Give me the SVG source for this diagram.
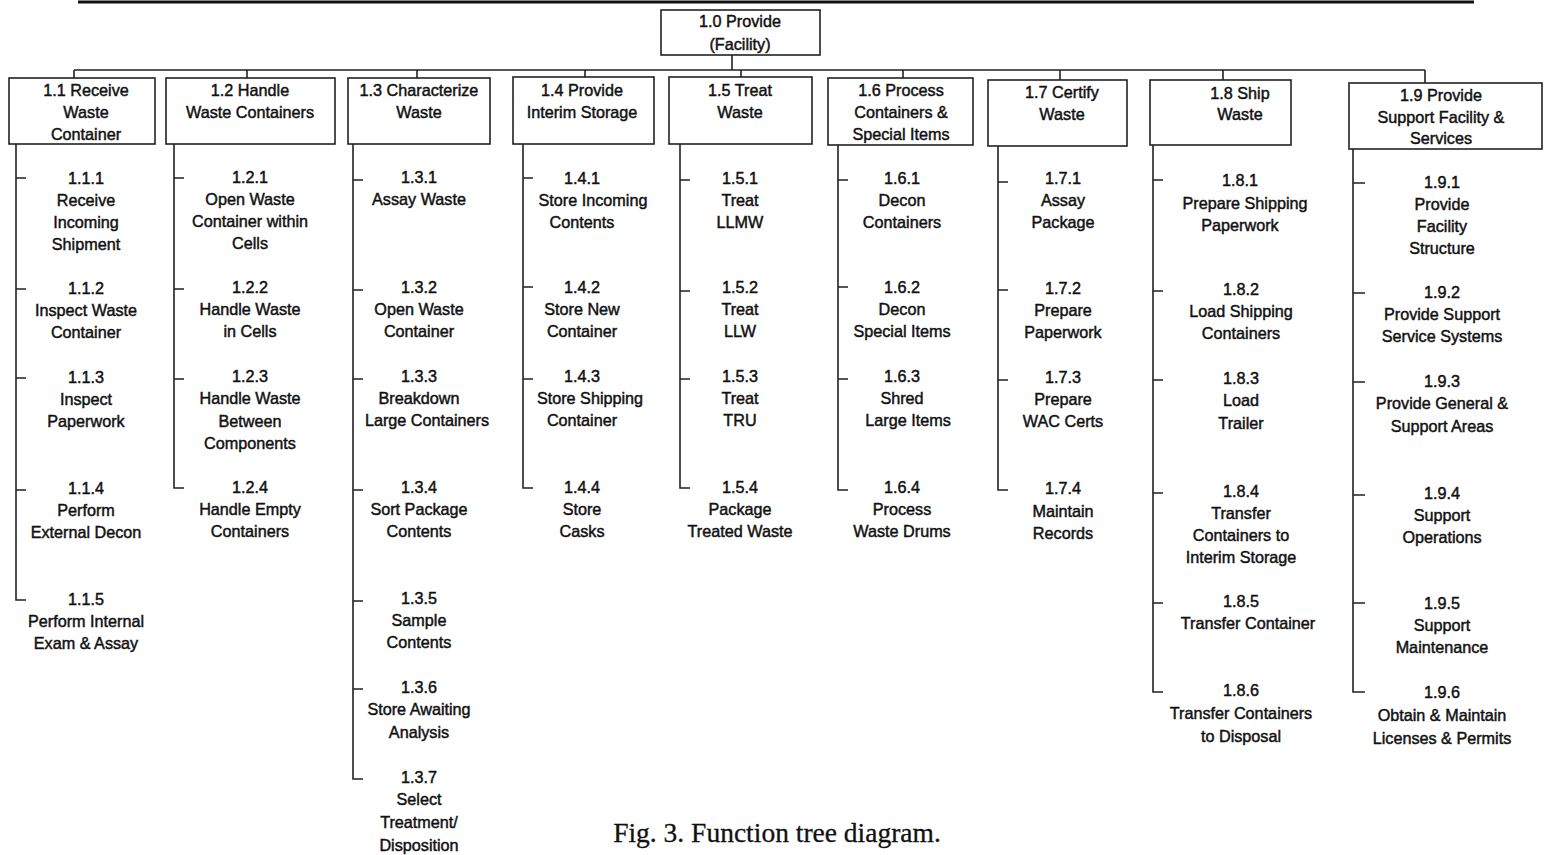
<svg xmlns="http://www.w3.org/2000/svg" width="1546" height="855" viewBox="0 0 1546 855">
<style>
.t{font-family:"Liberation Sans",Arial,sans-serif;font-size:16.2px;fill:#111;stroke:#111;stroke-width:0.45;text-anchor:middle;dominant-baseline:central}
.box{fill:#fff;stroke:#222;stroke-width:1.6}
.ln{stroke:#222;stroke-width:1.6;fill:none}
.cap{font-family:"Liberation Serif","Times New Roman",serif;font-size:27.5px;fill:#111;stroke:#111;stroke-width:0.3;text-anchor:middle}
</style>
<rect width="1546" height="855" fill="#fff"/>
<line x1="78" y1="2" x2="1474" y2="2" stroke="#111" stroke-width="3"/>

<g id="connectors" class="ln">
<path d="M732 55V70M74 70H1425M74 70V78M247 70V78M417 70V78M585 70V77M741 70V77M903 70V78M1060 70V80M1223 70V80M1425 70V83"/>
<path d="M16 144V600H26M16 178H26M16 289H26M16 378H26M16 490H26"/>
<path d="M174 144V488H184M174 178H184M174 289H184M174 379H184"/>
<path d="M353 144V779H363M353 180H363M353 290H363M353 379H363M353 490H363M353 601H363M353 689H363"/>
<path d="M523 144V488H533M523 178H533M523 287H533M523 379H533"/>
<path d="M680 144V488H690M680 180H690M680 291H690M680 379H690"/>
<path d="M838 145V490H848M838 180H848M838 287H848M838 379H848"/>
<path d="M998 146V490H1008M998 182H1008M998 290H1008M998 380H1008"/>
<path d="M1153 145V692H1163M1153 180H1163M1153 291H1163M1153 380H1163M1153 493H1163M1153 603H1163"/>
<path d="M1353 149V692H1365M1353 183H1365M1353 293H1365M1353 382H1365M1353 495H1365M1353 603H1365"/>
</g>

<g id="n1-0"><rect class="box" x="661" y="10" width="159" height="45"/><text class="t"><tspan x="740" y="21">1.0 Provide</tspan><tspan x="740" y="44">(Facility)</tspan></text></g>
<g id="n1-1"><rect class="box" x="9" y="78" width="146" height="66"/><text class="t"><tspan x="86" y="90">1.1 Receive</tspan><tspan x="86" y="112">Waste</tspan><tspan x="86" y="134">Container</tspan></text></g>
<g id="n1-2"><rect class="box" x="166" y="78" width="169" height="66"/><text class="t"><tspan x="250" y="90">1.2 Handle</tspan><tspan x="250" y="112">Waste Containers</tspan></text></g>
<g id="n1-3"><rect class="box" x="348" y="78" width="142" height="66"/><text class="t"><tspan x="419" y="90">1.3 Characterize</tspan><tspan x="419" y="112">Waste</tspan></text></g>
<g id="n1-4"><rect class="box" x="513" y="77" width="141" height="67"/><text class="t"><tspan x="582" y="90">1.4 Provide</tspan><tspan x="582" y="112">Interim Storage</tspan></text></g>
<g id="n1-5"><rect class="box" x="669" y="77" width="143" height="67"/><text class="t"><tspan x="740" y="90">1.5 Treat</tspan><tspan x="740" y="112">Waste</tspan></text></g>
<g id="n1-6"><rect class="box" x="828" y="78" width="145" height="67"/><text class="t"><tspan x="901" y="90">1.6 Process</tspan><tspan x="901" y="112">Containers &amp;</tspan><tspan x="901" y="134">Special Items</tspan></text></g>
<g id="n1-7"><rect class="box" x="988" y="80" width="139" height="66"/><text class="t"><tspan x="1062" y="92">1.7 Certify</tspan><tspan x="1062" y="114">Waste</tspan></text></g>
<g id="n1-8"><rect class="box" x="1150" y="80" width="141" height="65"/><text class="t"><tspan x="1240" y="93">1.8 Ship</tspan><tspan x="1240" y="114">Waste</tspan></text></g>
<g id="n1-9"><rect class="box" x="1349" y="83" width="193" height="66"/><text class="t"><tspan x="1441" y="95">1.9 Provide</tspan><tspan x="1441" y="117">Support Facility &amp;</tspan><tspan x="1441" y="138">Services</tspan></text></g>

<g id="n1-1-1"><text class="t"><tspan x="86" y="178">1.1.1</tspan><tspan x="86" y="200">Receive</tspan><tspan x="86" y="222">Incoming</tspan><tspan x="86" y="244">Shipment</tspan></text></g>
<g id="n1-1-2"><text class="t"><tspan x="86" y="288">1.1.2</tspan><tspan x="86" y="310">Inspect Waste</tspan><tspan x="86" y="332">Container</tspan></text></g>
<g id="n1-1-3"><text class="t"><tspan x="86" y="377">1.1.3</tspan><tspan x="86" y="399">Inspect</tspan><tspan x="86" y="421">Paperwork</tspan></text></g>
<g id="n1-1-4"><text class="t"><tspan x="86" y="488">1.1.4</tspan><tspan x="86" y="510">Perform</tspan><tspan x="86" y="532">External Decon</tspan></text></g>
<g id="n1-1-5"><text class="t"><tspan x="86" y="599">1.1.5</tspan><tspan x="86" y="621">Perform Internal</tspan><tspan x="86" y="643">Exam &amp; Assay</tspan></text></g>

<g id="n1-2-1"><text class="t"><tspan x="250" y="177">1.2.1</tspan><tspan x="250" y="199">Open Waste</tspan><tspan x="250" y="221">Container within</tspan><tspan x="250" y="243">Cells</tspan></text></g>
<g id="n1-2-2"><text class="t"><tspan x="250" y="287">1.2.2</tspan><tspan x="250" y="309">Handle Waste</tspan><tspan x="250" y="331">in Cells</tspan></text></g>
<g id="n1-2-3"><text class="t"><tspan x="250" y="376">1.2.3</tspan><tspan x="250" y="398">Handle Waste</tspan><tspan x="250" y="421">Between</tspan><tspan x="250" y="443">Components</tspan></text></g>
<g id="n1-2-4"><text class="t"><tspan x="250" y="487">1.2.4</tspan><tspan x="250" y="509">Handle Empty</tspan><tspan x="250" y="531">Containers</tspan></text></g>

<g id="n1-3-1"><text class="t"><tspan x="419" y="177">1.3.1</tspan><tspan x="419" y="199">Assay Waste</tspan></text></g>
<g id="n1-3-2"><text class="t"><tspan x="419" y="287">1.3.2</tspan><tspan x="419" y="309">Open Waste</tspan><tspan x="419" y="331">Container</tspan></text></g>
<g id="n1-3-3"><text class="t"><tspan x="419" y="376">1.3.3</tspan><tspan x="419" y="398">Breakdown</tspan><tspan x="427" y="420">Large Containers</tspan></text></g>
<g id="n1-3-4"><text class="t"><tspan x="419" y="487">1.3.4</tspan><tspan x="419" y="509">Sort Package</tspan><tspan x="419" y="531">Contents</tspan></text></g>
<g id="n1-3-5"><text class="t"><tspan x="419" y="598">1.3.5</tspan><tspan x="419" y="620">Sample</tspan><tspan x="419" y="642">Contents</tspan></text></g>
<g id="n1-3-6"><text class="t"><tspan x="419" y="687">1.3.6</tspan><tspan x="419" y="709">Store Awaiting</tspan><tspan x="419" y="732">Analysis</tspan></text></g>
<g id="n1-3-7"><text class="t"><tspan x="419" y="777">1.3.7</tspan><tspan x="419" y="799">Select</tspan><tspan x="419" y="822">Treatment/</tspan><tspan x="419" y="845">Disposition</tspan></text></g>

<g id="n1-4-1"><text class="t"><tspan x="582" y="178">1.4.1</tspan><tspan x="593" y="200">Store Incoming</tspan><tspan x="582" y="222">Contents</tspan></text></g>
<g id="n1-4-2"><text class="t"><tspan x="582" y="287">1.4.2</tspan><tspan x="582" y="309">Store New</tspan><tspan x="582" y="331">Container</tspan></text></g>
<g id="n1-4-3"><text class="t"><tspan x="582" y="376">1.4.3</tspan><tspan x="590" y="398">Store Shipping</tspan><tspan x="582" y="420">Container</tspan></text></g>
<g id="n1-4-4"><text class="t"><tspan x="582" y="487">1.4.4</tspan><tspan x="582" y="509">Store</tspan><tspan x="582" y="531">Casks</tspan></text></g>

<g id="n1-5-1"><text class="t"><tspan x="740" y="178">1.5.1</tspan><tspan x="740" y="200">Treat</tspan><tspan x="740" y="222">LLMW</tspan></text></g>
<g id="n1-5-2"><text class="t"><tspan x="740" y="287">1.5.2</tspan><tspan x="740" y="309">Treat</tspan><tspan x="740" y="331">LLW</tspan></text></g>
<g id="n1-5-3"><text class="t"><tspan x="740" y="376">1.5.3</tspan><tspan x="740" y="398">Treat</tspan><tspan x="740" y="420">TRU</tspan></text></g>
<g id="n1-5-4"><text class="t"><tspan x="740" y="487">1.5.4</tspan><tspan x="740" y="509">Package</tspan><tspan x="740" y="531">Treated Waste</tspan></text></g>

<g id="n1-6-1"><text class="t"><tspan x="902" y="178">1.6.1</tspan><tspan x="902" y="200">Decon</tspan><tspan x="902" y="222">Containers</tspan></text></g>
<g id="n1-6-2"><text class="t"><tspan x="902" y="287">1.6.2</tspan><tspan x="902" y="309">Decon</tspan><tspan x="902" y="331">Special Items</tspan></text></g>
<g id="n1-6-3"><text class="t"><tspan x="902" y="376">1.6.3</tspan><tspan x="902" y="398">Shred</tspan><tspan x="908" y="420">Large Items</tspan></text></g>
<g id="n1-6-4"><text class="t"><tspan x="902" y="487">1.6.4</tspan><tspan x="902" y="509">Process</tspan><tspan x="902" y="531">Waste Drums</tspan></text></g>

<g id="n1-7-1"><text class="t"><tspan x="1063" y="178">1.7.1</tspan><tspan x="1063" y="200">Assay</tspan><tspan x="1063" y="222">Package</tspan></text></g>
<g id="n1-7-2"><text class="t"><tspan x="1063" y="288">1.7.2</tspan><tspan x="1063" y="310">Prepare</tspan><tspan x="1063" y="332">Paperwork</tspan></text></g>
<g id="n1-7-3"><text class="t"><tspan x="1063" y="377">1.7.3</tspan><tspan x="1063" y="399">Prepare</tspan><tspan x="1063" y="421">WAC Certs</tspan></text></g>
<g id="n1-7-4"><text class="t"><tspan x="1063" y="488">1.7.4</tspan><tspan x="1063" y="511">Maintain</tspan><tspan x="1063" y="533">Records</tspan></text></g>

<g id="n1-8-1"><text class="t"><tspan x="1240" y="180">1.8.1</tspan><tspan x="1245" y="203">Prepare Shipping</tspan><tspan x="1240" y="225">Paperwork</tspan></text></g>
<g id="n1-8-2"><text class="t"><tspan x="1241" y="289">1.8.2</tspan><tspan x="1241" y="311">Load Shipping</tspan><tspan x="1241" y="333">Containers</tspan></text></g>
<g id="n1-8-3"><text class="t"><tspan x="1241" y="378">1.8.3</tspan><tspan x="1241" y="400">Load</tspan><tspan x="1241" y="423">Trailer</tspan></text></g>
<g id="n1-8-4"><text class="t"><tspan x="1241" y="491">1.8.4</tspan><tspan x="1241" y="513">Transfer</tspan><tspan x="1241" y="535">Containers to</tspan><tspan x="1241" y="557">Interim Storage</tspan></text></g>
<g id="n1-8-5"><text class="t"><tspan x="1241" y="601">1.8.5</tspan><tspan x="1248" y="623">Transfer Container</tspan></text></g>
<g id="n1-8-6"><text class="t"><tspan x="1241" y="690">1.8.6</tspan><tspan x="1241" y="713">Transfer Containers</tspan><tspan x="1241" y="736">to Disposal</tspan></text></g>

<g id="n1-9-1"><text class="t"><tspan x="1442" y="182">1.9.1</tspan><tspan x="1442" y="204">Provide</tspan><tspan x="1442" y="226">Facility</tspan><tspan x="1442" y="248">Structure</tspan></text></g>
<g id="n1-9-2"><text class="t"><tspan x="1442" y="292">1.9.2</tspan><tspan x="1442" y="314">Provide Support</tspan><tspan x="1442" y="336">Service Systems</tspan></text></g>
<g id="n1-9-3"><text class="t"><tspan x="1442" y="381">1.9.3</tspan><tspan x="1442" y="403">Provide General &amp;</tspan><tspan x="1442" y="426">Support Areas</tspan></text></g>
<g id="n1-9-4"><text class="t"><tspan x="1442" y="493">1.9.4</tspan><tspan x="1442" y="515">Support</tspan><tspan x="1442" y="537">Operations</tspan></text></g>
<g id="n1-9-5"><text class="t"><tspan x="1442" y="603">1.9.5</tspan><tspan x="1442" y="625">Support</tspan><tspan x="1442" y="647">Maintenance</tspan></text></g>
<g id="n1-9-6"><text class="t"><tspan x="1442" y="692">1.9.6</tspan><tspan x="1442" y="715">Obtain &amp; Maintain</tspan><tspan x="1442" y="738">Licenses &amp; Permits</tspan></text></g>

<text class="cap" x="777" y="842">Fig. 3. Function tree diagram.</text>
</svg>
